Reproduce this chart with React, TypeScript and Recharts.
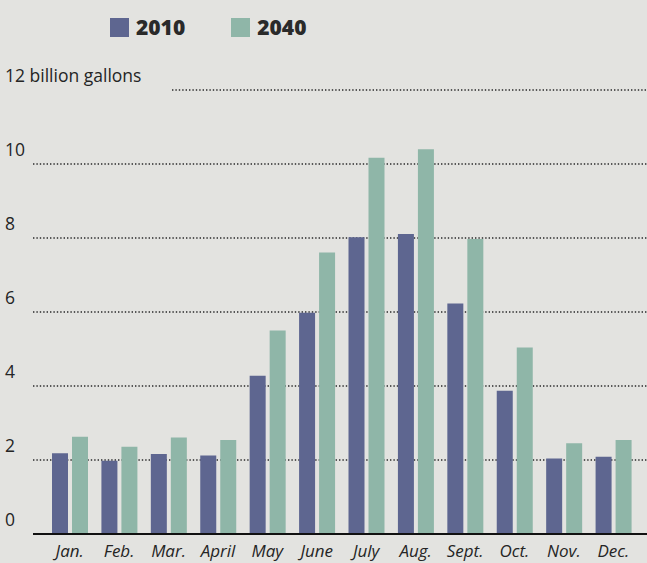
import React from 'react';
import { BarChart, Bar, XAxis, YAxis, CartesianGrid } from 'recharts';

const months = ['Jan.', 'Feb.', 'Mar.', 'April', 'May', 'June', 'July', 'Aug.', 'Sept.', 'Oct.', 'Nov.', 'Dec.'];
const values2010 = [2.18, 1.98, 2.16, 2.12, 4.28, 5.98, 8.02, 8.11, 6.23, 3.87, 2.04, 2.09];
const values2040 = [2.63, 2.36, 2.61, 2.54, 5.5, 7.61, 10.17, 10.4, 7.97, 5.04, 2.45, 2.54];
const yTicks = [0, 2, 4, 6, 8, 10, 12];
const seriesNames = ['2010', '2040'];

const data = months.map((m, i) => ({ month: m, v2010: values2010[i], v2040: values2040[i] }));

const C2010 = '#5e6690';
const C2040 = '#8fb6a8';
const BG = '#e3e3e0';
const TEXT = '#252525';
const FONT = '"Open Sans", sans-serif';

const YTick = (props: any) => {
  const { y, payload } = props;
  const label = payload.value === 12 ? '12 billion gallons' : String(payload.value);
  return (
    <text x={5} y={y - 8} fill={TEXT} fontSize={17.5} fontFamily={FONT} textAnchor="start">
      {label}
    </text>
  );
};

const XTick = (props: any) => {
  const { x, y, payload } = props;
  return (
    <text x={x} y={y + 15} fill={TEXT} fontSize={17} fontStyle="italic" fontFamily={FONT} textAnchor="middle">
      {payload.value}
    </text>
  );
};

const GridLine = (props: any) => {
  const { x1, y1, x2, y2 } = props;
  if (y1 > 530) return <g />;
  const start = y1 < 100 ? 172 : x1;
  return (
    <line x1={start} y1={y1} x2={x2} y2={y2} stroke="#2a2a2a" strokeWidth={1.5} strokeDasharray="1.4 2" />
  );
};

export default function App() {
  return (
    <div style={{ position: 'absolute', left: 0, top: 0, width: 647, height: 563, background: BG, overflow: 'hidden' }}>
      <div style={{ position: 'absolute', top: 13, left: 110, display: 'flex', alignItems: 'center', fontFamily: FONT, fontWeight: 800, fontSize: 21, color: '#2a2a2a' }}>
        <span style={{ display: 'inline-block', width: 19, height: 19, background: C2010, marginRight: 7 }} />
        <span style={{ marginRight: 46 }}>{seriesNames[0]}</span>
        <span style={{ display: 'inline-block', width: 19, height: 19, background: C2040, marginRight: 7 }} />
        <span>{seriesNames[1]}</span>
      </div>
      <BarChart
        width={647}
        height={563}
        data={data}
        margin={{ top: 90, right: 0, left: 0, bottom: 0 }}
        barSize={16}
        barGap={4}
      >
        <CartesianGrid vertical={false} horizontal={GridLine as any} />
        <XAxis
          dataKey="month"
          axisLine={{ stroke: '#111', strokeWidth: 2 }}
          tickLine={false}
          tick={<XTick />}
          padding={{ left: 12, right: 9 }}
          height={29}
          interval={0}
        />
        <YAxis
          domain={[0, 12]}
          ticks={yTicks}
          width={33}
          axisLine={false}
          tickLine={false}
          tick={<YTick />}
          interval={0}
        />
        <Bar dataKey="v2010" fill={C2010} isAnimationActive={false} />
        <Bar dataKey="v2040" fill={C2040} isAnimationActive={false} />
      </BarChart>
    </div>
  );
}
